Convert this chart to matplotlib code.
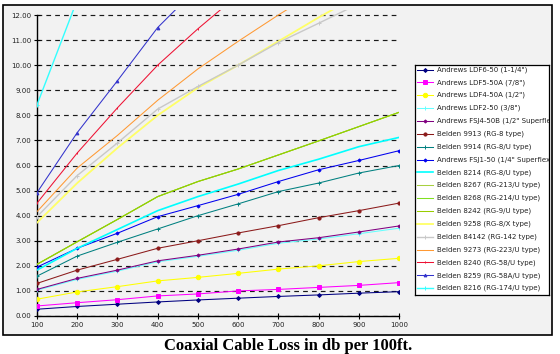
import matplotlib
matplotlib.use('Agg')
import matplotlib.pyplot as plt
from matplotlib.patches import Rectangle
import numpy as np

nan = np.nan
freq = [100, 200, 300, 400, 500, 600, 700, 800, 900, 1000]

# cable names in legend order
names = [
    'Andrews LDF6-50 (1-1/4")',
    'Andrews LDF5-50A (7/8")',
    'Andrews LDF4-50A (1/2")',
    'Andrews LDF2-50 (3/8")',
    'Andrews FSJ4-50B (1/2" Superflex)',
    'Belden 9913 (RG-8 type)',
    'Belden 9914 (RG-8/U type)',
    'Andrews FSJ1-50 (1/4" Superflex)',
    'Belden 8214 (RG-8/U type)',
    'Belden 8267 (RG-213/U type)',
    'Belden 8268 (RG-214/U type)',
    'Belden 8242 (RG-9/U type)',
    'Belden 9258 (RG-8/X type)',
    'Belden 84142 (RG-142 type)',
    'Belden 9273 (RG-223/U type)',
    'Belden 8240 (RG-58/U type)',
    'Belden 8259 (RG-58A/U type)',
    'Belden 8216 (RG-174/U type)',
]

# loss in db per 100ft
ldf6 = [0.27, 0.38, 0.47, 0.56, 0.64, 0.71, 0.78, 0.84, 0.91, 0.97]
ldf5 = [0.40, 0.53, 0.65, 0.80, 0.88, 1.00, 1.06, 1.14, 1.22, 1.33]
ldf4 = [0.67, 0.96, 1.17, 1.40, 1.54, 1.70, 1.87, 2.00, 2.17, 2.30]
ldf2 = [1.03, 1.46, 1.79, 2.16, 2.38, 2.62, 2.90, 3.07, 3.28, 3.50]
fsj4 = [1.06, 1.50, 1.83, 2.20, 2.42, 2.67, 2.95, 3.12, 3.35, 3.59]
b9913 = [1.30, 1.83, 2.26, 2.70, 3.00, 3.31, 3.60, 3.92, 4.20, 4.50]
b9914 = [1.59, 2.39, 2.94, 3.47, 4.00, 4.47, 4.96, 5.30, 5.70, 6.00]
fsj1 = [1.95, 2.70, 3.30, 3.96, 4.40, 4.85, 5.36, 5.83, 6.20, 6.59]
b8214 = [1.83, 2.70, 3.45, 4.20, 4.76, 5.26, 5.80, 6.25, 6.75, 7.12]
b8267 = [2.06, 2.96, 3.85, 4.76, 5.36, 5.86, 6.42, 6.98, 7.55, 8.12]
b8268 = [2.06, 2.96, 3.85, 4.76, 5.36, 5.86, 6.42, 6.98, 7.55, 8.12]
b8242 = [2.06, 2.96, 3.85, 4.76, 5.36, 5.86, 6.42, 6.98, 7.55, 8.12]
b9258 = [3.72, 5.30, 6.70, 8.00, 9.10, 10.00, 10.95, 11.90, 12.80, nan]
b84142 = [3.96, 5.60, 6.90, 8.25, 9.15, 10.00, 10.90, 11.67, 12.45, nan]
b9273 = [4.16, 5.90, 7.20, 8.60, 9.85, 10.95, 12.00, 13.00, nan, nan]
b8240 = [4.50, 6.50, 8.30, 10.00, 11.45, 12.80, nan, nan, nan, nan]
b8259 = [4.92, 7.31, 9.38, 11.50, 13.10, nan, nan, nan, nan, nan]
b8216 = [8.42, 12.60, nan, nan, nan, nan, nan, nan, nan, nan]

series = [ldf6, ldf5, ldf4, ldf2, fsj4, b9913, b9914, fsj1, b8214,
          b8267, b8268, b8242, b9258, b84142, b9273, b8240, b8259, b8216]

# (color, marker, markersize, linewidth)
styles = [
    ('#000080', 'D', 2.0, 0.75),
    ('#ff00ff', 's', 2.6, 0.75),
    ('#ffff00', 'o', 3.2, 0.75),
    ('#66ffff', '+', 2.5, 0.75),
    ('#800080', 'D', 1.6, 0.75),
    ('#8b1a1a', 'o', 2.3, 0.75),
    ('#008080', '+', 2.5, 0.75),
    ('#0000ee', 'D', 1.6, 0.75),
    ('#00ffff', '', 0, 1.2),
    ('#a8d040', '', 0, 0.75),
    ('#80e020', '', 0, 0.75),
    ('#99cc00', '', 0, 0.75),
    ('#ffff66', '', 0, 1.3),
    ('#c8c8c8', '+', 2.5, 1.0),
    ('#ff9933', '', 0, 0.75),
    ('#ee1133', '|', 2.0, 0.75),
    ('#3333cc', '^', 2.0, 0.75),
    ('#33ffff', '+', 2.5, 1.0),
]

W, H = 560, 354
fig = plt.figure(figsize=(W / 100, H / 100), dpi=100)

# grey chart frame
fig.patches.append(Rectangle((3 / W, (H - 335) / H), 549 / W, 330 / H,
                             transform=fig.transFigure, facecolor='#f2f2f2',
                             edgecolor='black', linewidth=1.2, zorder=-5))

ax = fig.add_axes([37 / W, (H - 316) / H, 362 / W, 306 / H])
ax.set_facecolor('none')
for k, vals in enumerate(series):
    c, m, ms, lw = styles[k]
    ax.plot(freq, vals, color=c, marker=m if m else None, markersize=ms,
            markeredgewidth=0.7, linewidth=lw, zorder=3)

ax.set_xlim(100, 1000)
ax.set_ylim(0, 12.2)
ax.set_xticks(freq)
ax.set_yticks(range(0, 13))
ax.set_yticklabels(['%.2f' % v for v in range(0, 13)])
ax.yaxis.grid(True, linestyle=(0, (4, 3.5)), color='#1a1a1a', linewidth=0.85)
ax.set_axisbelow(True)
for s in ['top', 'right']:
    ax.spines[s].set_visible(False)
ax.spines['left'].set_bounds(0, 12)
ax.spines['bottom'].set_bounds(100, 1000)
ax.spines['left'].set_linewidth(1)
ax.spines['bottom'].set_linewidth(1)
ax.tick_params(direction='inout', length=4, width=0.8, labelsize=5,
               colors='black', labelcolor='#222222', pad=2)

# legend box, drawn by hand so long names get cut at the border
lg = fig.add_axes([415 / W, (H - 295) / H, 134 / W, 230 / H])
lg.set_xlim(0, 134)
lg.set_ylim(230, 0)
lg.set_xticks([])
lg.set_yticks([])
lg.set_facecolor('white')
for s in lg.spines.values():
    s.set_linewidth(0.9)
for k, name in enumerate(names):
    c, m, ms, lw = styles[k]
    yy = 4.5 + k * 12.86
    lg.plot([2, 18], [yy, yy], color=c, linewidth=lw)
    if m:
        lg.plot([10], [yy], color=c, marker=m, markersize=ms, markeredgewidth=0.7)
    lg.text(22, yy, name, fontsize=5, va='center', ha='left', color='#222222',
            clip_on=True)

fig.text(288 / W, 4 / H, 'Coaxial Cable Loss in db per 100ft.',
         family='Liberation Serif', fontweight='bold', fontsize=12,
         ha='center', va='baseline')

fig.savefig('out.png', dpi=100)
